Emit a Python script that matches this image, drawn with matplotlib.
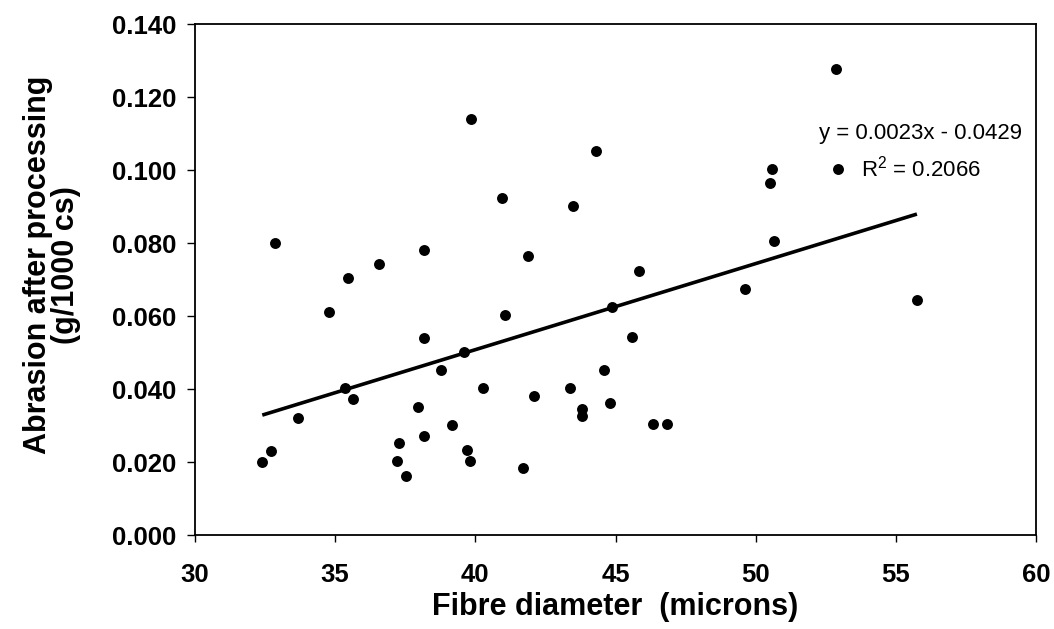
import numpy as np
import matplotlib
matplotlib.use("Agg")
import matplotlib.pyplot as plt

plt.rcParams["font.family"] = ["Liberation Sans", "DejaVu Sans"]
plt.rcParams["mathtext.fontset"] = "custom"
plt.rcParams["mathtext.rm"] = "Liberation Sans"
plt.rcParams["mathtext.it"] = "Liberation Sans"

# Fibre diameter (microns) and abrasion after processing (g/1000 cs)
diameter = [
    32.40, 32.70, 32.86, 33.68, 34.77, 35.35, 35.45, 35.65, 36.56, 37.20,
    37.29, 37.51, 37.96, 38.17, 38.18, 38.18, 38.76, 39.18, 39.60, 39.70,
    39.81, 39.86, 40.27, 40.95, 41.07, 41.70, 41.87, 42.10, 43.39, 43.48,
    43.80, 43.80, 44.31, 44.58, 44.81, 44.89, 45.57, 45.83, 46.33, 46.82,
    49.63, 50.50, 50.57, 50.64, 52.87, 52.93, 55.75,
]
abrasion = [
    0.0201, 0.0230, 0.0801, 0.0320, 0.0611, 0.0402, 0.0703, 0.0372, 0.0743, 0.0202,
    0.0252, 0.0162, 0.0350, 0.0782, 0.0541, 0.0271, 0.0451, 0.0301, 0.0502, 0.0233,
    0.0204, 0.1141, 0.0402, 0.0922, 0.0603, 0.0184, 0.0764, 0.0381, 0.0402, 0.0902,
    0.0344, 0.0325, 0.1051, 0.0452, 0.0362, 0.0624, 0.0543, 0.0724, 0.0304, 0.0304,
    0.0675, 0.0965, 0.1003, 0.0805, 0.1276, 0.1003, 0.0644,
]

x_ticks = [30, 35, 40, 45, 50, 55, 60]
y_ticks = [0.000, 0.020, 0.040, 0.060, 0.080, 0.100, 0.120, 0.140]

equation_text = "y = 0.0023x - 0.0429"
r2_text = "R$^{2}$ = 0.2066"

fig = plt.figure(figsize=(10.54, 6.29), dpi=100)
ax = fig.add_axes([0.185, 0.1494, 0.798, 0.8124])

ax.scatter(diameter, abrasion, s=62, color="black", linewidths=0, zorder=3)

# linear trend line over the data range
slope, intercept = np.polyfit(diameter, abrasion, 1)
xs = np.array([min(diameter), max(diameter)])
ax.plot(xs, slope * xs + intercept, color="black", lw=2.6, zorder=2,
        solid_capstyle="butt")

ax.text(52.25, 0.1101, equation_text, fontsize=16, va="center", ha="left")
ax.text(53.75, 0.1005, r2_text, fontsize=16, va="center", ha="left")

ax.set_xlim(30, 60)
ax.set_ylim(0, 0.14)
ax.set_xticks(x_ticks)
ax.set_yticks(y_ticks)
ax.set_xticklabels([str(v) for v in x_ticks], fontsize=18.5, fontweight="bold")
ax.set_yticklabels([f"{v:.3f}" for v in y_ticks], fontsize=18.5, fontweight="bold")
ax.tick_params(axis="x", direction="out", length=5, width=1, pad=15)
ax.tick_params(axis="y", direction="out", length=5.5, width=1, pad=8)

for sp in ax.spines.values():
    sp.set_linewidth(1.3)
    sp.set_color("black")

ax.set_xlabel("Fibre diameter  (microns)", fontsize=22, fontweight="bold", labelpad=4)
ax.set_ylabel("Abrasion after processing\n(g/1000 cs)", fontsize=22, fontweight="bold",
              linespacing=0.95, va="center")
ax.yaxis.set_label_coords(-0.17, 0.528)

fig.savefig("out.png", dpi=100, facecolor="white")
